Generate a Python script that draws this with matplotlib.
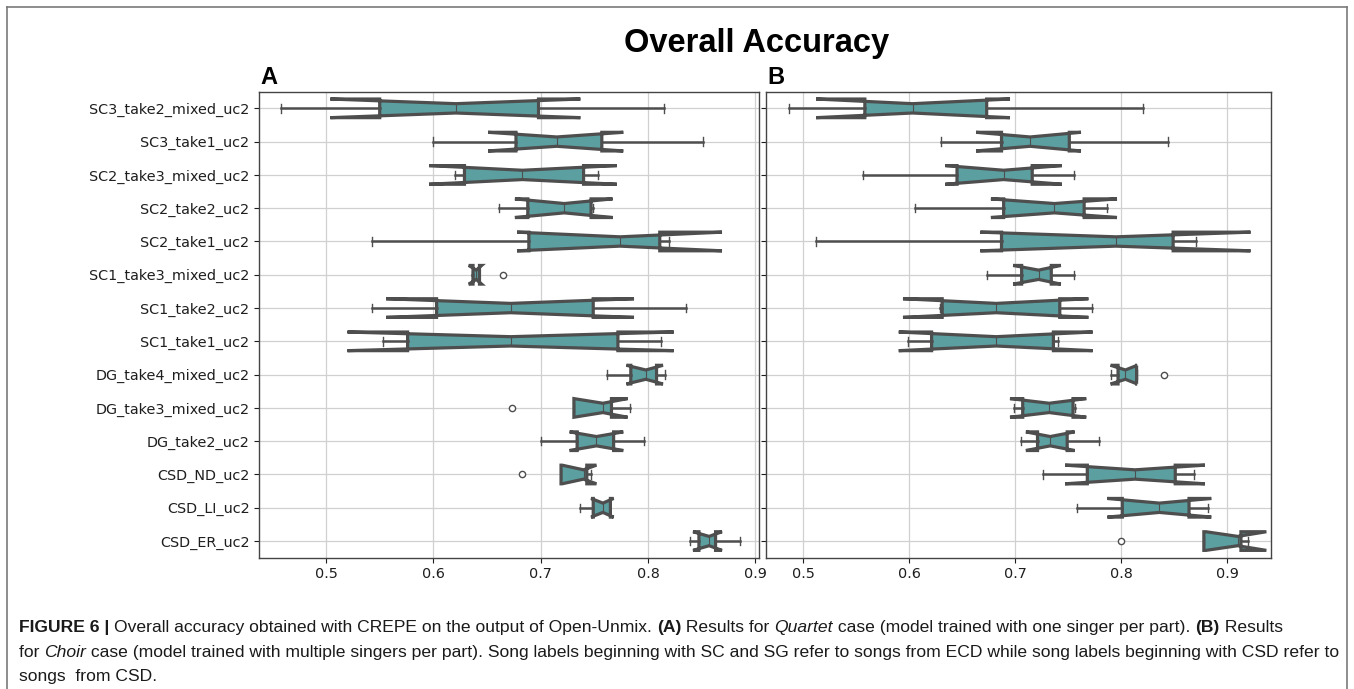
import matplotlib
matplotlib.use("Agg")
import matplotlib.pyplot as plt
from matplotlib.lines import Line2D

plt.rcParams['font.family'] = ['DejaVu Sans']

songs = ["SC3_take2_mixed_uc2", "SC3_take1_uc2", "SC2_take3_mixed_uc2", "SC2_take2_uc2",
         "SC2_take1_uc2", "SC1_take3_mixed_uc2", "SC1_take2_uc2", "SC1_take1_uc2",
         "DG_take4_mixed_uc2", "DG_take3_mixed_uc2", "DG_take2_uc2", "CSD_ND_uc2",
         "CSD_LI_uc2", "CSD_ER_uc2"]

# A : Quartet case
a_whislo = [0.458, 0.600, 0.620, 0.661, 0.543, 0.636, 0.543, 0.553, 0.762, 0.731, 0.700, 0.719, 0.737, 0.839]
a_cilo   = [0.504, 0.651, 0.596, 0.676, 0.678, 0.633, 0.556, 0.520, 0.780, 0.731, 0.727, 0.720, 0.747, 0.842]
a_q1     = [0.550, 0.677, 0.629, 0.688, 0.689, 0.637, 0.603, 0.576, 0.784, 0.731, 0.734, 0.719, 0.749, 0.8475]
a_med    = [0.621, 0.715, 0.683, 0.722, 0.774, 0.640, 0.672, 0.672, 0.798, 0.758, 0.752, 0.740, 0.758, 0.857]
a_q3     = [0.698, 0.757, 0.740, 0.747, 0.811, 0.643, 0.749, 0.772, 0.808, 0.766, 0.768, 0.743, 0.765, 0.863]
a_cihi   = [0.737, 0.777, 0.771, 0.767, 0.869, 0.645, 0.787, 0.824, 0.814, 0.781, 0.777, 0.752, 0.768, 0.869]
a_whishi = [0.815, 0.851, 0.753, 0.749, 0.820, 0.643, 0.835, 0.812, 0.816, 0.783, 0.796, 0.747, 0.765, 0.886]
a_fliers = [[], [], [], [], [], [0.665], [], [], [], [0.673], [], [0.683], [], []]

# B : Choir case
b_whislo = [0.486, 0.630, 0.556, 0.605, 0.512, 0.673, 0.629, 0.599, 0.790, 0.699, 0.705, 0.726, 0.758, 0.878]
b_cilo   = [0.512, 0.663, 0.634, 0.677, 0.667, 0.698, 0.594, 0.590, 0.790, 0.695, 0.710, 0.747, 0.787, 0.880]
b_q1     = [0.558, 0.687, 0.645, 0.689, 0.687, 0.706, 0.631, 0.621, 0.797, 0.707, 0.721, 0.768, 0.801, 0.878]
b_med    = [0.603, 0.714, 0.689, 0.737, 0.795, 0.722, 0.682, 0.682, 0.804, 0.732, 0.733, 0.813, 0.836, 0.910]
b_q3     = [0.673, 0.751, 0.716, 0.765, 0.849, 0.734, 0.742, 0.736, 0.8145, 0.7545, 0.749, 0.851, 0.864, 0.913]
b_cihi   = [0.695, 0.762, 0.744, 0.796, 0.922, 0.743, 0.769, 0.773, 0.815, 0.767, 0.756, 0.879, 0.885, 0.937]
b_whishi = [0.821, 0.844, 0.755, 0.787, 0.871, 0.755, 0.772, 0.740, 0.8145, 0.756, 0.779, 0.869, 0.882, 0.920]
b_fliers = [[], [], [], [], [], [], [], [], [0.840], [], [], [], [], [0.800]]

fill = "#5b9fa1"
edge = "#4e4e4e"

W, H = 1354, 689
fig = plt.figure(figsize=(W / 100, H / 100), dpi=100)


def stats_of(whislo, cilo, q1, med, q3, cihi, whishi, fliers):
    out = []
    for i in range(len(songs)):
        out.append(dict(label=songs[i], whislo=whislo[i], cilo=cilo[i], q1=q1[i], med=med[i],
                        q3=q3[i], cihi=cihi[i], whishi=whishi[i], fliers=fliers[i]))
    return out


def panel(rect, st, xlim, letter, show_labels):
    ax = fig.add_axes(rect)
    ax.bxp(st, positions=range(len(songs)), widths=0.56, capwidths=0.25,
           orientation='horizontal', patch_artist=True, shownotches=True, manage_ticks=False,
           boxprops=dict(facecolor=fill, edgecolor=edge, linewidth=2.3),
           whiskerprops=dict(color=edge, linewidth=1.8),
           capprops=dict(color=edge, linewidth=1.0),
           medianprops=dict(color=edge, linewidth=0.8),
           flierprops=dict(marker='o', markersize=4.5, markerfacecolor='white',
                           markeredgecolor=edge, markeredgewidth=1.0))
    ax.set_xlim(*xlim)
    ax.set_ylim(len(songs) - 0.5, -0.5)
    ax.set_yticks(range(len(songs)))
    if show_labels:
        ax.set_yticklabels(songs)
    else:
        ax.set_yticklabels([])
    ax.set_xticks([0.5, 0.6, 0.7, 0.8, 0.9])
    ax.set_xticklabels(["0.5", "0.6", "0.7", "0.8", "0.9"])
    ax.tick_params(labelsize=10.4, colors="#1e1e1e", length=3.5, width=0.8)
    ax.grid(True, color="#d0d0d0", linewidth=0.9)
    ax.set_axisbelow(True)
    for s in ax.spines.values():
        s.set_color("#444444")
        s.set_linewidth(1.0)
    fig.text(rect[0] + 1 / W, 1 - 84 / H, letter, fontsize=17, fontweight='bold',
             family='Liberation Sans', va='baseline', ha='left')
    return ax


bottom = 1 - 557.7 / H
height = (557.7 - 91.7) / H
panel([259.3 / W, bottom, 499.5 / W, height],
      stats_of(a_whislo, a_cilo, a_q1, a_med, a_q3, a_cihi, a_whishi, a_fliers),
      (0.4378, 0.9033), "A", True)
panel([766 / W, bottom, 504.6 / W, height],
      stats_of(b_whislo, b_cilo, b_q1, b_med, b_q3, b_cihi, b_whishi, b_fliers),
      (0.4647, 0.941), "B", False)

fig.text(757 / W, 1 - 52 / H, "Overall Accuracy", fontsize=23.5, fontweight='bold',
         family='Liberation Sans', ha='center', va='baseline')

# frame round the figure
frame = dict(color="#7a7a7a", linewidth=1.2, transform=fig.transFigure)
fig.add_artist(Line2D([7 / W, 7 / W], [0, 1 - 7 / H], **frame))
fig.add_artist(Line2D([7 / W, 1347 / W], [1 - 7 / H, 1 - 7 / H], **frame))
fig.add_artist(Line2D([1347 / W, 1347 / W], [0, 1 - 7 / H], **frame))

# caption, drawn piece by piece so bold / italic parts can sit inline
cap_size = 12.6
caption = [
    [("FIGURE 6 | ", 'bold', 'normal'),
     ("Overall accuracy obtained with CREPE on the output of Open-Unmix. ", 'normal', 'normal'),
     ("(A)", 'bold', 'normal'), (" Results for ", 'normal', 'normal'),
     ("Quartet", 'normal', 'italic'),
     (" case (model trained with one singer per part). ", 'normal', 'normal'),
     ("(B)", 'bold', 'normal'), (" Results", 'normal', 'normal')],
    [("for ", 'normal', 'normal'), ("Choir", 'normal', 'italic'),
     (" case (model trained with multiple singers per part). Song labels beginning with SC and SG "
      "refer to songs from ECD while song labels beginning with CSD refer to", 'normal', 'normal')],
    [("songs  from CSD.", 'normal', 'normal')],
]
line_y = [632, 657, 681]

fig.canvas.draw()
r = fig.canvas.get_renderer()
for pieces, y in zip(caption, line_y):
    x = 19
    for txt, wgt, sty in pieces:
        t = fig.text(x / W, 1 - y / H, txt, fontsize=cap_size, fontweight=wgt, fontstyle=sty,
                     family='Liberation Sans', va='baseline', ha='left', color="#1a1a1a")
        x += t.get_window_extent(renderer=r).width

fig.savefig("out.png", dpi=100)
